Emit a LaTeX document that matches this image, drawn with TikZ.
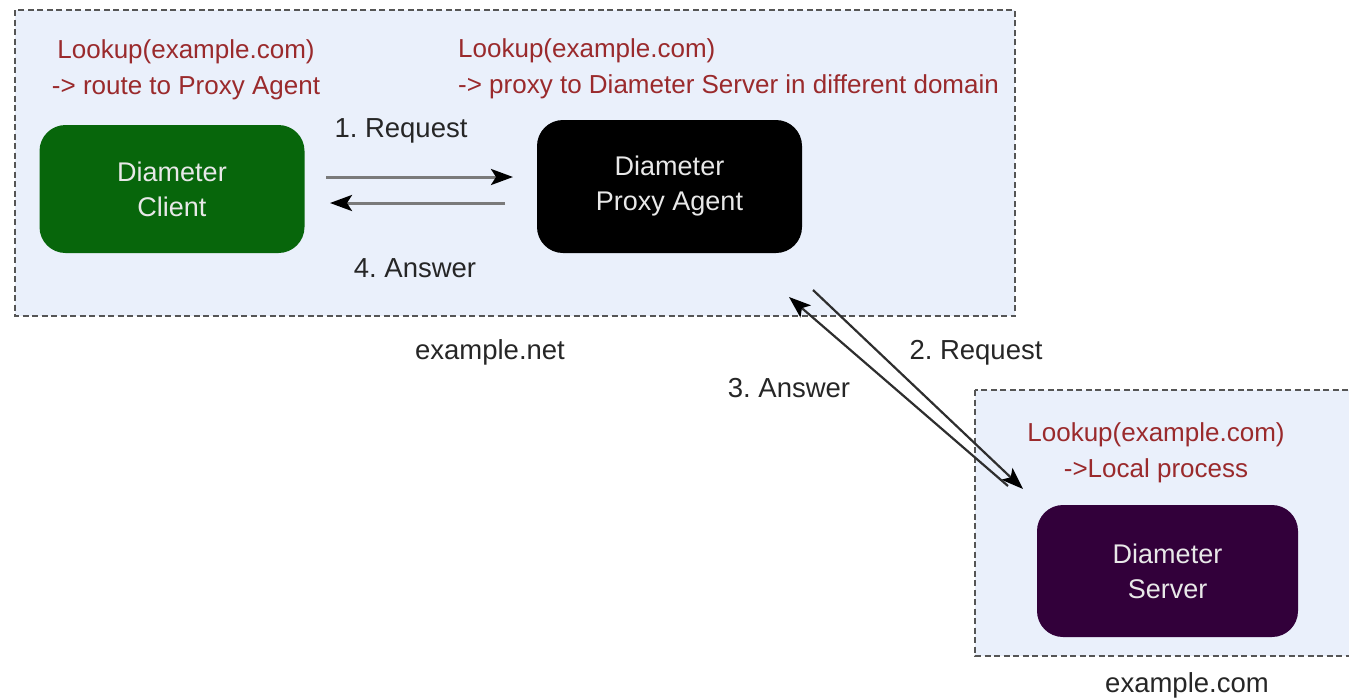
\documentclass[tikz,border=0pt]{standalone}
\usepackage{fontspec}
\setmainfont{Liberation Sans}
\usetikzlibrary{arrows.meta}
\definecolor{zonefill}{HTML}{EAF0FB}
\definecolor{zoneline}{HTML}{555555}
\definecolor{notered}{HTML}{9A2A2C}
\definecolor{clientgreen}{HTML}{07660B}
\definecolor{serverpurple}{HTML}{32003A}
\definecolor{flatline}{HTML}{7A7A7A}
\definecolor{slantline}{HTML}{2E2E2E}
\definecolor{boxtext}{HTML}{E8E8E8}
\frenchspacing
\begin{document}
\begin{tikzpicture}[x=1pt,y=-1pt,
  zone/.style={draw=zoneline, fill=zonefill, line width=2pt, dash pattern=on 6pt off 3.5pt},
  agent/.style={rounded corners=26pt, text=boxtext, align=center, inner sep=0pt,
    font=\fontsize{27}{35}\selectfont},
  note/.style={text=notered, font=\fontsize{26}{36}\selectfont, inner sep=0pt},
  msglabel/.style={text=black!85, font=\fontsize{27.5}{34}\selectfont, inner sep=0pt},
  tip/.style={-{Stealth[length=22pt,width=16pt,inset=5pt,color=black]}},
  flatmsg/.style={tip, draw=flatline, line width=3pt},
  slantmsg/.style={tip, draw=slantline, line width=2.2pt}]
\useasboundingbox (0,0) rectangle (1349,697);
\begin{scope}
\clip (0,0) rectangle (1349,697);
% domains
\draw[zone] (15,10) rectangle (1015,316);
\draw[zone] (975,390) rectangle (1380,656);
\end{scope}
% Diameter nodes
\node[agent, fill=clientgreen, minimum width=265pt, minimum height=128pt] (client) at (172,189) {Diameter\\Client};
\node[agent, fill=black, minimum width=265pt, minimum height=133pt] (proxy) at (669.5,186.5) {Diameter\\Proxy Agent};
\node[agent, fill=serverpurple, minimum width=261pt, minimum height=132pt] (server) at (1167.5,571) {Diameter\\Server};
% routing notes
\node[note, align=center] (noteclient) at (186,70) {Lookup(example.com)\\-> route to Proxy Agent};
\node[note, align=left, anchor=west] (noteproxy) at (458,69) {Lookup(example.com)\\-> proxy to Diameter Server in different domain};
\node[note, align=center] (noteserver) at (1156,453) {Lookup(example.com)\\->Local process};
% domain names
\node[msglabel] (netname) at (490,352) {example.net};
\node[msglabel] (comname) at (1187,685) {example.com};
% message endpoints
\coordinate (req1a) at (326,177);
\coordinate (req1b) at (513,177);
\coordinate (ans4a) at (505,203);
\coordinate (ans4b) at (330,203);
\coordinate (req2a) at (813,290);
\coordinate (req2b) at (1023,489);
\coordinate (ans3a) at (1008,486);
\coordinate (ans3b) at (789,297);
\draw[flatmsg] (req1a) -- (req1b);
\draw[flatmsg] (ans4a) -- (ans4b);
\draw[slantmsg] (req2a) -- (req2b);
\draw[slantmsg] (ans3a) -- (ans3b);
% message labels
\node[msglabel] (l1) at (401,131) {1. Request};
\node[msglabel] (l4) at (415,268) {4. Answer};
\node[msglabel] (l2) at (976,353) {2. Request};
\node[msglabel] (l3) at (789,388) {3. Answer};
\end{tikzpicture}
\end{document}
